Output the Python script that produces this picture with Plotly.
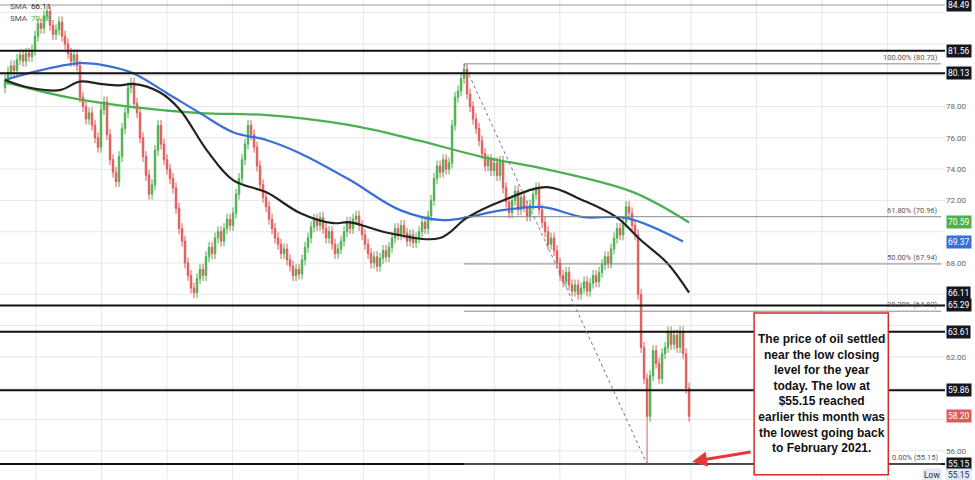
import plotly.graph_objects as go

closes = [79.7,80.2,80.6,80.3,81.0,81.3,80.9,81.4,81.2,81.6,82.5,83.3,83.0,83.8,84.1,83.2,82.6,82.9,83.4,82.5,
82.0,81.4,80.9,81.3,80.6,78.6,78.0,77.2,77.6,76.8,76.0,75.4,77.8,78.3,76.2,74.6,73.8,73.2,74.8,76.6,
77.6,79.2,79.5,78.2,77.6,76.0,74.8,73.6,72.4,73.0,75.2,76.8,75.6,74.6,74.0,73.4,72.8,71.5,70.2,69.4,
68.0,67.2,66.4,66.1,67.0,67.6,67.2,68.4,69.0,68.6,69.6,70.0,69.4,70.2,70.8,70.4,71.2,72.4,73.4,74.6,
75.6,76.8,76.2,75.4,74.2,73.0,72.2,71.6,70.8,70.2,69.6,69.2,68.6,68.9,68.2,67.8,67.2,67.6,67.3,68.2,
69.0,69.6,70.3,70.8,70.4,70.9,70.2,69.6,70.0,69.2,68.6,68.9,69.4,70.0,70.6,70.2,70.8,71.0,70.4,69.8,
69.2,68.6,68.0,68.4,67.8,68.3,68.8,68.4,69.0,69.6,70.2,69.8,70.4,69.9,69.4,69.8,69.3,69.6,70.0,70.6,
70.2,71.0,72.0,73.4,74.2,73.8,74.6,74.0,74.4,76.8,78.6,79.0,79.8,80.4,78.8,78.0,77.2,76.6,75.8,75.0,
74.2,74.6,73.9,74.4,73.6,74.5,72.8,71.9,71.2,72.0,72.6,71.4,72.2,71.6,71.0,71.7,72.4,72.8,71.4,70.6,
70.0,69.2,69.6,68.8,68.0,67.2,66.8,67.4,66.6,66.2,66.6,66.0,66.4,66.8,66.2,66.7,67.2,66.8,67.4,67.9,
68.4,68.0,68.9,69.6,70.2,69.8,70.6,71.6,71.2,70.4,69.8,66.0,62.6,60.6,58.2,60.8,62.4,61.6,60.6,62.2,
62.6,63.6,62.8,63.4,62.6,63.6,62.2,60.0,58.2]
first_open = 79.2
opens = [first_open] + closes[:-1]
highs = [max(o, c) + 0.35 for o, c in zip(opens, closes)]
lows = [min(o, c) - 0.35 for o, c in zip(opens, closes)]
highs[153] = 80.73
lows[214] = 55.15
idx = list(range(len(closes)))

sma50_x = [0,8.3,18.3,25,31.7,38.3,42.7,51.7,58.3,67.3,76,87.3,98.3,109.3,115,128.3,145,154,166,180.7,192.7,204,211.7,220.7,228]
sma50_y = [79.7,79.2,79.05,79.6,79.45,79.35,79.45,78.9,77.8,75.2,73.3,72.5,71.2,70.55,70.6,69.9,69.6,70.9,72.0,72.85,72.0,70.9,69.5,68.0,66.11]
sma100_x = [0,9.3,25,32.7,42.7,54,65,76,87.3,98.3,115,131.7,146,166,179.3,192.7,207.3,226]
sma100_y = [79.7,80.2,80.77,80.65,80.13,78.85,77.58,76.36,75.85,75.02,73.3,71.38,70.74,71.38,71.57,70.93,70.87,69.37]
sma200_x = [0,20.7,42.7,65,87.3,115,137.3,159.3,181.7,209.3,228]
sma200_y = [79.56,78.6,77.96,77.58,77.45,76.81,75.85,74.77,73.94,72.53,70.59]

levels = [81.56, 80.13, 65.29, 63.61, 59.86, 55.15]
fib_start = 153
fib_levels = [80.73, 70.96, 67.94, 64.92, 55.15]
fib_texts = ["100.00% (80.73)", "61.80% (70.96)", "50.00% (67.94)", "38.20% (64.92)", "0.00% (55.15)"]
box_labels = [(84.49, "84.49", "#131722"), (81.56, "81.56", "#131722"), (80.13, "80.13", "#131722"),
              (70.59, "70.59", "#4caf50"), (69.37, "69.37", "#3a6fd8"), (66.11, "66.11", "#131722"),
              (65.29, "65.29", "#131722"), (63.61, "63.61", "#131722"), (59.86, "59.86", "#131722"),
              (58.20, "58.20", "#e05a5a"), (55.15, "55.15", "#131722")]
ticks = [56, 62, 68, 72, 74, 76, 78]
grid_ticks = [56, 58, 60, 62, 64, 66, 68, 70, 72, 74, 76, 78, 80, 82, 84]

fig = go.Figure()
fig.add_trace(go.Candlestick(x=idx, open=opens, high=highs, low=lows, close=closes,
    increasing=dict(line=dict(color="#4caf50", width=1), fillcolor="#4caf50"),
    decreasing=dict(line=dict(color="#e05a5a", width=1), fillcolor="#e05a5a"),
    whiskerwidth=0, showlegend=False, hoverinfo="skip"))
for xs, ys, col in [(sma200_x, sma200_y, "#4caf50"), (sma100_x, sma100_y, "#3a6fd8"), (sma50_x, sma50_y, "#222222")]:
    fig.add_trace(go.Scatter(x=xs, y=ys, mode="lines", line=dict(color=col, width=2.2, shape="spline"),
                             showlegend=False, hoverinfo="skip"))

shapes = []
for v in range(0, 15):
    shapes.append(dict(type="line", xref="x", yref="paper", x0=10.3 + 21.83 * v, x1=10.3 + 21.83 * v,
                       y0=0, y1=1, line=dict(color="#e4e6ea", width=1), layer="below"))
for g in grid_ticks:
    shapes.append(dict(type="line", xref="paper", yref="y", x0=0, x1=1, y0=g, y1=g,
                       line=dict(color="#e4e6ea", width=1), layer="below"))
for lv in levels:
    shapes.append(dict(type="line", xref="paper", yref="y", x0=0, x1=1, y0=lv, y1=lv,
                       line=dict(color="#111111", width=2)))
shapes.append(dict(type="line", xref="paper", yref="y", x0=0, x1=1, y0=84.49, y1=84.49,
                   line=dict(color="#999999", width=1)))
for lv in fib_levels:
    shapes.append(dict(type="line", xref="x", yref="y", x0=fib_start, x1=312, y0=lv, y1=lv,
                       line=dict(color="#888888", width=1)))
shapes.append(dict(type="line", xref="x", yref="y", x0=fib_start, x1=214, y0=80.73, y1=55.15,
                   line=dict(color="#777777", width=1, dash="dot")))
shapes.append(dict(type="rect", xref="paper", yref="paper", x0=0.798, x1=0.94, y0=0.011, y1=0.348,
                   line=dict(color="#d42a2a", width=1.5), fillcolor="white"))

ann = []
for lv, t in zip(fib_levels, fib_texts):
    ann.append(dict(x=0.995, y=lv, xref="paper", yref="y", text=t, showarrow=False, xanchor="right",
                    yanchor="bottom", font=dict(size=7.5, color="#555555", family="Roboto")))
for lv, t, col in box_labels:
    ann.append(dict(x=1.0, y=lv, xref="paper", yref="y", text=t, showarrow=False, xanchor="left",
                    xshift=1, bgcolor=col, font=dict(size=8.5, color="white", family="Roboto"), borderpad=1))
ann.append(dict(x=1.0, y=54.45, xref="paper", yref="y", text="55.15", showarrow=False, xanchor="left",
                xshift=1, bgcolor="#dfe9f7", font=dict(size=8.5, color="#333333", family="Roboto"), borderpad=1))
ann.append(dict(x=0.997, y=54.45, xref="paper", yref="y", text="Low", showarrow=False, xanchor="right",
                bgcolor="#dfe9f7", font=dict(size=8.5, color="#333333", family="Roboto"), borderpad=1))
ann.append(dict(x=0.869, y=0.18, xref="paper", yref="paper", showarrow=False, yanchor="middle", xanchor="center",
                text="<b>The price of oil settled<br>near the low closing<br>level for the year<br>today. The low at<br>$55.15 reached<br>earlier this month was<br>the lowest going back<br>to February 2021.</b>",
                font=dict(size=12, color="#111111", family="Liberation Sans"), align="center"))
ann.append(dict(x=229, y=55.3, xref="x", yref="y", ax=60, ay=-10, axref="pixel", ayref="pixel",
                showarrow=True, arrowhead=2, arrowsize=1, arrowwidth=3, arrowcolor="#e53935", text=""))
ann.append(dict(x=0.008, y=1.0, xref="paper", yref="paper", text="SMA  <span style='color:#222'>66.11</span>",
                showarrow=False, xanchor="left", yanchor="top", font=dict(size=8, color="#555", family="Roboto")))
ann.append(dict(x=0.008, y=0.975, xref="paper", yref="paper", text="SMA  <span style='color:#4caf50'>70.59</span>",
                showarrow=False, xanchor="left", yanchor="top", font=dict(size=8, color="#555", family="Roboto")))

fig.update_layout(width=975, height=480, margin=dict(l=0, r=30, t=0, b=0),
                  plot_bgcolor="white", paper_bgcolor="white", shapes=shapes, annotations=ann,
                  xaxis=dict(range=[-1.67, 313.3], showgrid=False, showticklabels=False, zeroline=False,
                             rangeslider=dict(visible=False), fixedrange=True),
                  yaxis=dict(range=[54.13, 84.81], side="right", tickvals=ticks, showgrid=False,
                             ticktext=[f"{t:.2f}" for t in ticks],
                             tickfont=dict(size=8, color="#666", family="Roboto"), zeroline=False,
                             ticks="", ticklabelposition="outside"))
fig.write_html("out.html", config={"displayModeBar": False})
with open("out.html", encoding="utf-8") as f:
    html = f.read()
html = html.replace("<head>", "<head><style>html,body{margin:0;padding:0;overflow:hidden}</style>", 1)
with open("out.html", "w", encoding="utf-8") as f:
    f.write(html)
